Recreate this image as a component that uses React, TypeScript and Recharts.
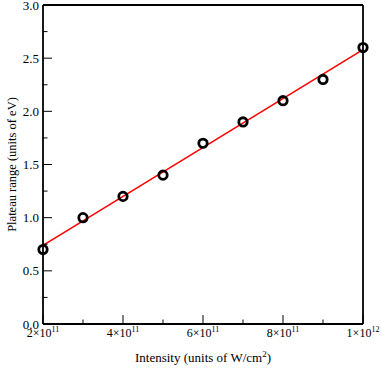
import React from "react";
import { ComposedChart, Scatter, Line, XAxis, YAxis, Label } from "recharts";

// Intensity in units of 10^11 W/cm^2
const intensity = [2, 3, 4, 5, 6, 7, 8, 9, 10];
const plateau = [0.7, 1.0, 1.2, 1.4, 1.7, 1.9, 2.1, 2.3, 2.6];
const fitIntensity = [2, 10];
const fitPlateau = [0.74, 2.58];

const xMajor = [2, 4, 6, 8, 10];
const xMinor = [3, 5, 7, 9];
const xTickMantissa = ["2", "4", "6", "8", "1"];
const xTickExponent = ["11", "11", "11", "11", "12"];
const yMajor = [0, 0.5, 1.0, 1.5, 2.0, 2.5, 3.0];
const yMinor = [0.25, 0.75, 1.25, 1.75, 2.25, 2.75];

const pointData = intensity.map((x, i) => ({ x, y: plateau[i] }));
const fitData = fitIntensity.map((x, i) => ({ x, y: fitPlateau[i] }));

const FONT = "'Liberation Serif', 'Times New Roman', serif";
const MAJ = 9;
const MIN = 4.5;

const BottomTick = (props: any) => {
  const { x, y, payload } = props;
  const idx = xMajor.indexOf(payload.value);
  if (idx < 0) {
    return <line x1={x} y1={y} x2={x} y2={y - MIN} stroke="#000" strokeWidth={1} />;
  }
  return (
    <g>
      <line x1={x} y1={y} x2={x} y2={y - MAJ} stroke="#000" strokeWidth={1} />
      <text x={x} y={y + 13} textAnchor="middle" fontFamily={FONT} fontSize={12} fill="#000">
        <tspan>{xTickMantissa[idx]}×10</tspan>
        <tspan dy={-5} fontSize={8}>{xTickExponent[idx]}</tspan>
      </text>
    </g>
  );
};

const TopTick = (props: any) => {
  const { x, y, payload } = props;
  const len = xMajor.indexOf(payload.value) >= 0 ? MAJ : MIN;
  return <line x1={x} y1={y} x2={x} y2={y + len} stroke="#000" strokeWidth={1} />;
};

const LeftTick = (props: any) => {
  const { x, y, payload } = props;
  const isMajor = yMajor.indexOf(payload.value) >= 0;
  if (!isMajor) {
    return <line x1={x} y1={y} x2={x + MIN} y2={y} stroke="#000" strokeWidth={1} />;
  }
  return (
    <g>
      <line x1={x} y1={y} x2={x + MAJ} y2={y} stroke="#000" strokeWidth={1} />
      <text x={x - 4} y={y + 4.5} textAnchor="end" fontFamily={FONT} fontSize={13} fill="#000">
        {payload.value.toFixed(1)}
      </text>
    </g>
  );
};

const RightTick = (props: any) => {
  const { x, y, payload } = props;
  const len = yMajor.indexOf(payload.value) >= 0 ? MAJ : MIN;
  return <line x1={x} y1={y} x2={x - len} y2={y} stroke="#000" strokeWidth={1} />;
};

const Circle = (props: any) => {
  const { cx, cy } = props;
  return <circle cx={cx} cy={cy} r={4.2} fill="none" stroke="#000" strokeWidth={2.8} />;
};

export default function App() {
  return (
    <div style={{ position: "absolute", left: 0, top: 0 }}>
      <ComposedChart
        width={382}
        height={370}
        margin={{ top: 4, right: 18, bottom: 45, left: 42 }}
      >
        <XAxis
          xAxisId="b"
          type="number"
          dataKey="x"
          domain={[2, 10]}
          ticks={[...xMajor, ...xMinor]}
          interval={0}
          orientation="bottom"
          height={1}
          tickSize={0}
          tickMargin={0}
          tickLine={false}
          axisLine={{ stroke: "#000", strokeWidth: 1.8 }}
          tick={<BottomTick />}
        >
          <Label
            content={(p: any) => {
              const vb = p.viewBox || {};
              return (
                <text
                  x={vb.x + vb.width / 2}
                  y={vb.y + 38}
                  textAnchor="middle"
                  fontFamily={FONT}
                  fontSize={13}
                  fill="#000"
                >
                  <tspan>Intensity (units of W/cm</tspan>
                  <tspan dy={-5} fontSize={9}>2</tspan>
                  <tspan dy={5}>)</tspan>
                </text>
              );
            }}
          />
        </XAxis>
        <XAxis
          xAxisId="t"
          type="number"
          dataKey="x"
          domain={[2, 10]}
          ticks={[...xMajor, ...xMinor]}
          interval={0}
          orientation="top"
          height={1}
          tickSize={0}
          tickMargin={0}
          tickLine={false}
          axisLine={{ stroke: "#000", strokeWidth: 1.8 }}
          tick={<TopTick />}
        />
        <YAxis
          yAxisId="l"
          type="number"
          domain={[0, 3]}
          ticks={[...yMajor, ...yMinor]}
          interval={0}
          orientation="left"
          width={1}
          tickSize={0}
          tickMargin={0}
          tickLine={false}
          axisLine={{ stroke: "#000", strokeWidth: 1.8 }}
          tick={<LeftTick />}
        >
          <Label
            content={(p: any) => {
              const vb = p.viewBox || {};
              const cx = 16;
              const cy = vb.y + vb.height / 2;
              return (
                <text
                  x={cx}
                  y={cy}
                  transform={`rotate(-90 ${cx} ${cy})`}
                  textAnchor="middle"
                  fontFamily={FONT}
                  fontSize={12.5}
                  fill="#000"
                >
                  Plateau range (units of eV)
                </text>
              );
            }}
          />
        </YAxis>
        <YAxis
          yAxisId="r"
          type="number"
          domain={[0, 3]}
          ticks={[...yMajor, ...yMinor]}
          interval={0}
          orientation="right"
          width={1}
          tickSize={0}
          tickMargin={0}
          tickLine={false}
          axisLine={{ stroke: "#000", strokeWidth: 1.8 }}
          tick={<RightTick />}
        />
        <Line
          xAxisId="b"
          yAxisId="l"
          data={fitData}
          dataKey="y"
          type="linear"
          stroke="#ff0000"
          strokeWidth={1.6}
          dot={false}
          activeDot={false}
          isAnimationActive={false}
        />
        <Scatter
          xAxisId="b"
          yAxisId="l"
          data={pointData}
          dataKey="y"
          shape={<Circle />}
          isAnimationActive={false}
        />
      </ComposedChart>
    </div>
  );
}
